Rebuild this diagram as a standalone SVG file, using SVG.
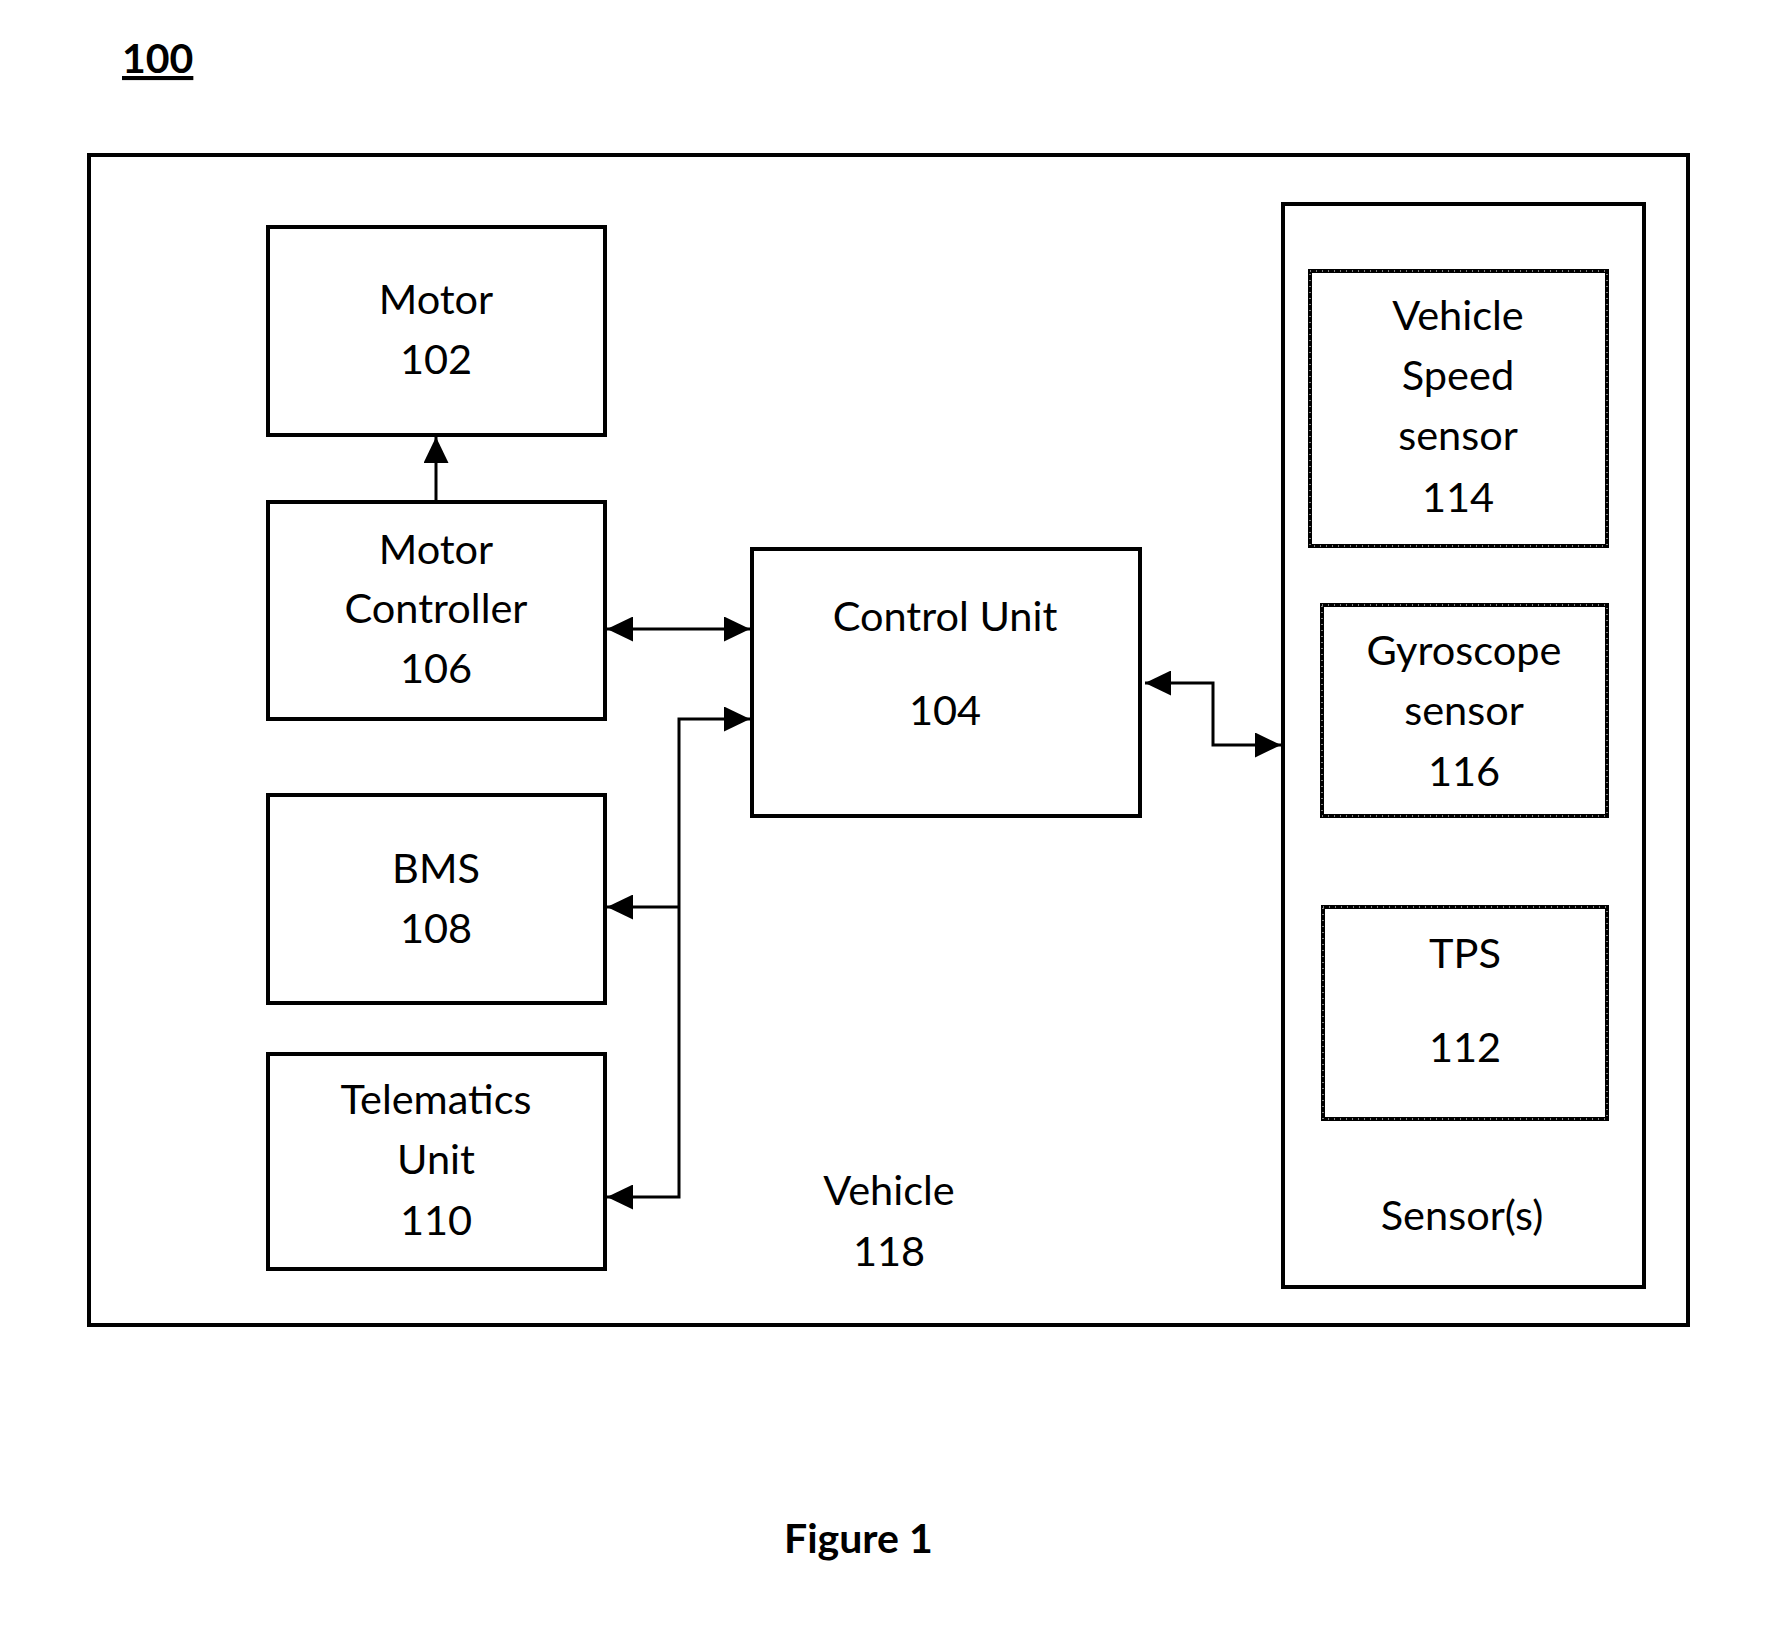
<svg xmlns="http://www.w3.org/2000/svg" width="1769" height="1629" viewBox="0 0 1769 1629">
<defs>
<style>
.box{fill:none;stroke:#000;stroke-width:4}
.dot{fill:none;stroke:#fff;stroke-width:1;stroke-dasharray:1 5}
.t{font-family:Lato,"Open Sans",sans-serif;font-size:41.5px;fill:#000;text-anchor:middle}
.b{font-family:Lato,"Open Sans",sans-serif;font-size:41px;font-weight:bold;fill:#000}
.c{fill:none;stroke:#000;stroke-width:3}
</style>
<marker id="ah" viewBox="0 0 26 25" refX="26" refY="12.5" markerWidth="26" markerHeight="25" markerUnits="userSpaceOnUse" orient="auto-start-reverse">
<path d="M0,0 L26,12.5 L0,25 z" fill="#000"/>
</marker>
</defs>
<rect width="1769" height="1629" fill="#fff"/>
<text id="label100" class="b" x="122" y="73" text-decoration="underline">100</text>
<g id="vehicle">
<rect class="box" x="89" y="155" width="1599" height="1170"/>
<text class="t" x="889" y="1205">Vehicle</text>
<text class="t" x="889" y="1266">118</text>
</g>
<g id="motor">
<rect class="box" x="268" y="227" width="337" height="208"/>
<text class="t" x="436" y="314">Motor</text>
<text class="t" x="436" y="374">102</text>
</g>
<g id="motor-controller">
<rect class="box" x="268" y="502" width="337" height="217"/>
<text class="t" x="436" y="564">Motor</text>
<text class="t" x="436" y="623">Controller</text>
<text class="t" x="436" y="683">106</text>
</g>
<g id="bms">
<rect class="box" x="268" y="795" width="337" height="208"/>
<text class="t" x="436" y="883">BMS</text>
<text class="t" x="436" y="943">108</text>
</g>
<g id="telematics">
<rect class="box" x="268" y="1054" width="337" height="215"/>
<text class="t" x="436" y="1114">Telematics</text>
<text class="t" x="436" y="1174">Unit</text>
<text class="t" x="436" y="1235">110</text>
</g>
<g id="control-unit">
<rect class="box" x="752" y="549" width="388" height="267"/>
<text class="t" x="945" y="631">Control Unit</text>
<text class="t" x="945" y="725">104</text>
</g>
<g id="sensors">
<rect class="box" x="1283" y="204" width="361" height="1083"/>
<text class="t" x="1462" y="1230">Sensor(s)</text>
</g>
<g id="speed-sensor">
<rect class="box" x="1310" y="271" width="297" height="275"/>
<rect class="dot" x="1310" y="271" width="297" height="275"/>
<text class="t" x="1458" y="330">Vehicle</text>
<text class="t" x="1458" y="390">Speed</text>
<text class="t" x="1458" y="450">sensor</text>
<text class="t" x="1458" y="512">114</text>
</g>
<g id="gyro-sensor">
<rect class="box" x="1322" y="605" width="285" height="211"/>
<rect class="dot" x="1322" y="605" width="285" height="211"/>
<text class="t" x="1464" y="665">Gyroscope</text>
<text class="t" x="1464" y="725">sensor</text>
<text class="t" x="1464" y="786">116</text>
</g>
<g id="tps">
<rect class="box" x="1323" y="907" width="284" height="212"/>
<rect class="dot" x="1323" y="907" width="284" height="212"/>
<text class="t" x="1465" y="968">TPS</text>
<text class="t" x="1465" y="1062">112</text>
</g>
<g id="connectors">
<path class="c" d="M436,500 V437" marker-end="url(#ah)"/>
<path class="c" d="M607,629 H750" marker-start="url(#ah)" marker-end="url(#ah)"/>
<path class="c" d="M750,719 H679 V1197 H607" marker-start="url(#ah)" marker-end="url(#ah)"/>
<path class="c" d="M679,907 H607" marker-end="url(#ah)"/>
<path class="c" d="M1145,683 H1213 V745 H1281" marker-start="url(#ah)" marker-end="url(#ah)"/>
</g>
<text id="caption" class="b" x="784" y="1553">Figure 1</text>
</svg>
